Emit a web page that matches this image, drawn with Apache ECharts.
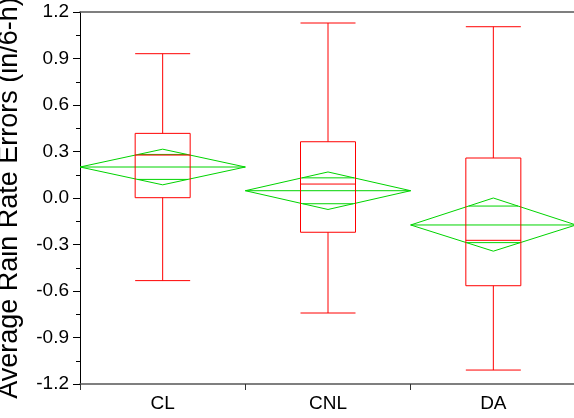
<!DOCTYPE html>
<html>
<head>
<meta charset="utf-8">
<script src="https://cdn.jsdelivr.net/npm/echarts@6/dist/echarts.min.js"></script>
<style>
  html, body { margin: 0; padding: 0; background: #fff; }
  #chart { width: 574px; height: 418px; }
</style>
</head>
<body>
<div id="chart"></div>
<script>
// Experiment groups
const categories = ['CL', 'CNL', 'DA'];

// Box plot summaries: [min, Q1, median, Q3, max]
const boxStats = [
  [-0.533, 0.002, 0.277, 0.417, 0.931],
  [-0.742, -0.221, 0.090, 0.363, 1.129],
  [-1.110, -0.566, -0.273, 0.258, 1.105]
];

// Means diamonds: group mean, 95% CI bounds, overlap marks
const means = [0.200, 0.047, -0.174];
const ciUpper = [0.315, 0.168, 0.000];
const ciLower = [0.085, -0.074, -0.343];
const markUpper = [0.281, 0.130, -0.052];
const markLower = [0.120, -0.037, -0.288];

// Y axis range and step
const yMin = -1.2, yMax = 1.2, yStep = 0.3;

const RED = '#ff0000';
const GREEN = '#00d400';
const FONT = 'Liberation Sans, Arial, sans-serif';

const diamondData = categories.map((c, i) =>
  [i, means[i], ciUpper[i], ciLower[i], markUpper[i], markLower[i]]);

function renderDiamond(params, api) {
  const i = api.value(0);
  const band = api.size([1, 0])[0];
  const half = band / 2;
  const c = api.coord([i, api.value(1)]);
  const top = api.coord([i, api.value(2)]);
  const bot = api.coord([i, api.value(3)]);
  const mu = api.coord([i, api.value(4)]);
  const ml = api.coord([i, api.value(5)]);
  const cx = c[0];
  const style = { stroke: GREEN, lineWidth: 1, fill: null };
  // half width of the diamond at a given pixel y
  function widthAt(y) {
    if (y <= c[1]) return half * (y - top[1]) / (c[1] - top[1]);
    return half * (bot[1] - y) / (bot[1] - c[1]);
  }
  const wu = widthAt(mu[1]);
  const wl = widthAt(ml[1]);
  return {
    type: 'group',
    children: [
      { type: 'polygon', shape: { points: [[cx - half, c[1]], [cx, top[1]], [cx + half, c[1]], [cx, bot[1]]] }, style: style },
      { type: 'line', shape: { x1: cx - half, y1: c[1], x2: cx + half, y2: c[1] }, style: style },
      { type: 'line', shape: { x1: cx - wu, y1: mu[1], x2: cx + wu, y2: mu[1] }, style: style },
      { type: 'line', shape: { x1: cx - wl, y1: ml[1], x2: cx + wl, y2: ml[1] }, style: style }
    ]
  };
}

const chart = echarts.init(document.getElementById('chart'), null, { renderer: 'canvas' });
chart.setOption({
  animation: false,
  backgroundColor: '#ffffff',
  grid: { left: 80, right: -2, top: 12, bottom: 34, containLabel: false, outerBoundsMode: 'none' },
  xAxis: [
    {
      type: 'category',
      data: categories,
      boundaryGap: true,
      position: 'bottom',
      axisLine: { show: true, onZero: false, lineStyle: { color: '#555555', width: 1.5 } },
      axisTick: { show: true, inside: false, length: 6, alignWithLabel: false, lineStyle: { color: '#333333', width: 1 } },
      axisLabel: { color: '#000', fontSize: 19, fontFamily: FONT, margin: 10 },
      splitLine: { show: false }
    },
    {
      type: 'category',
      data: categories,
      position: 'top',
      axisLine: { show: true, onZero: false, lineStyle: { color: '#555555', width: 1.5 } },
      axisTick: { show: false },
      axisLabel: { show: false },
      splitLine: { show: false }
    }
  ],
  yAxis: {
    type: 'value',
    min: yMin,
    max: yMax,
    interval: yStep,
    name: 'Average Rain Rate Errors (in/6-h)',
    nameLocation: 'middle',
    nameRotate: 90,
    nameGap: 43,
    nameTextStyle: { color: '#000', fontSize: 27, fontFamily: FONT },
    axisLine: { show: true, onZero: false, lineStyle: { color: '#000', width: 1 } },
    axisTick: { show: true, inside: false, length: 7, lineStyle: { color: '#000' } },
    minorTick: { show: true, splitNumber: 2, length: 4, lineStyle: { color: '#000' } },
    axisLabel: {
      color: '#000', fontSize: 19, fontFamily: FONT, margin: 9,
      backgroundColor: '#ffffff', padding: [0, 2, 0, 2],
      formatter: v => v.toFixed(1)
    },
    splitLine: { show: false }
  },
  series: [
    {
      type: 'custom',
      name: 'means',
      renderItem: renderDiamond,
      data: diamondData,
      encode: { x: 0, y: 1 },
      z: 2,
      silent: true
    },
    {
      type: 'boxplot',
      name: 'box',
      data: boxStats,
      boxWidth: [55, 55],
      itemStyle: { color: 'rgba(0,0,0,0)', borderColor: RED, borderWidth: 1 },
      emphasis: { disabled: true },
      z: 3,
      silent: true
    }
  ]
});
</script>
</body>
</html>
